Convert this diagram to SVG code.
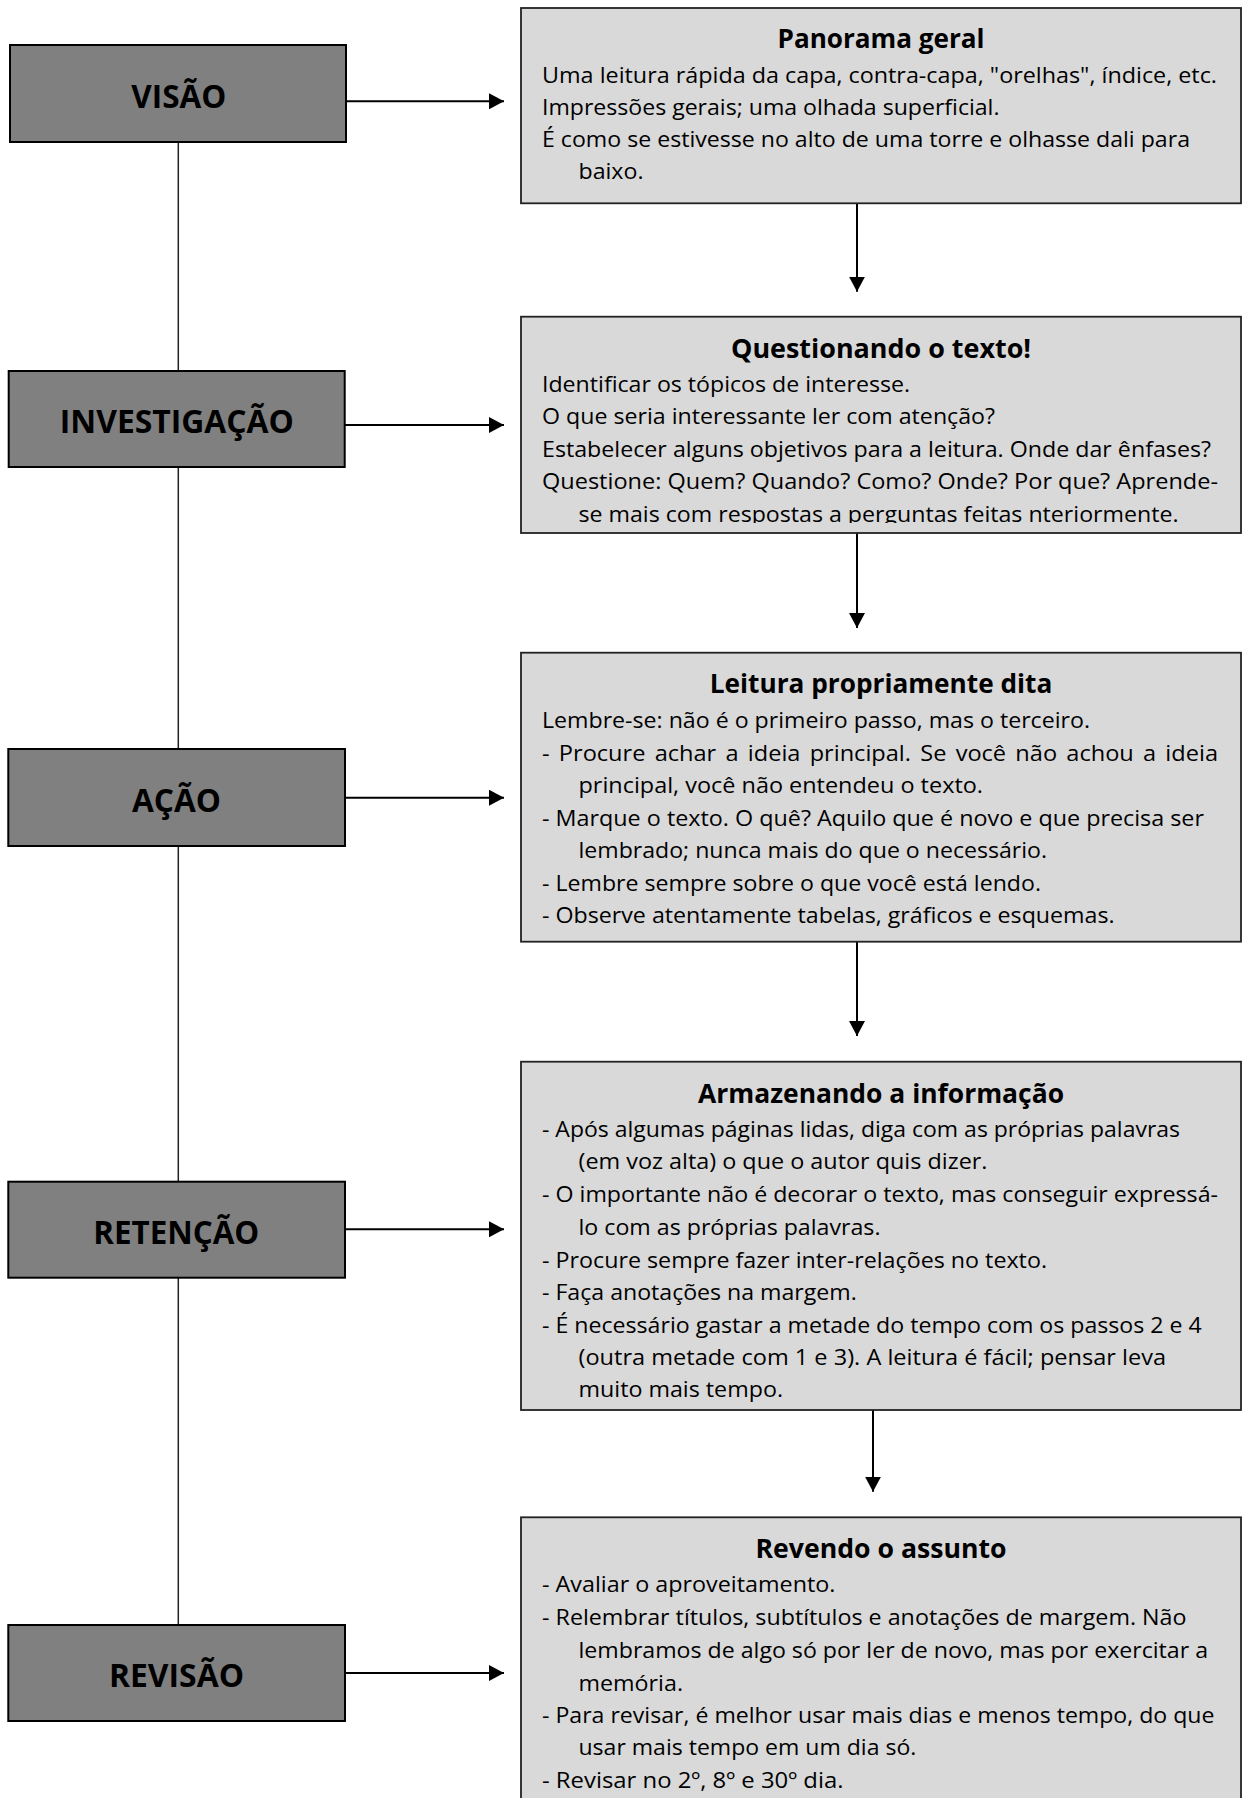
<svg xmlns="http://www.w3.org/2000/svg" width="1246" height="1798" viewBox="0 0 1246 1798">
<style>
.lbox{fill:#808080;stroke:#000;stroke-width:2}
.rbox{fill:#d9d9d9;stroke:#222;stroke-width:1.8}
.lbl{font-family:"Open Sans","Noto Sans",sans-serif;font-weight:bold;font-size:33px;fill:#000;text-anchor:middle}
.ttl{font-family:"Open Sans","Noto Sans",sans-serif;font-weight:bold;font-size:27.5px;fill:#000;text-anchor:middle}
.txt{font-family:"Open Sans","Noto Sans",sans-serif;font-size:22.5px;fill:#000}
.vline{stroke:#222;stroke-width:1.5;fill:none}
.arr{stroke:#000;stroke-width:2;fill:none;marker-end:url(#ah)}
</style>
<defs>
<marker id="ah" markerUnits="userSpaceOnUse" markerWidth="16" markerHeight="16" refX="15" refY="8" orient="auto">
<path d="M0,0 L15,8 L0,16 z" fill="#000"/>
</marker>
<clipPath id="clipQ"><rect x="520" y="300" width="722" height="223"/></clipPath>
</defs>
<rect width="1246" height="1798" fill="#fff"/>

<g id="connectors">
<line class="vline" x1="178.3" y1="142" x2="178.3" y2="371"/>
<line class="vline" x1="178.3" y1="467" x2="178.3" y2="749"/>
<line class="vline" x1="178.3" y1="846" x2="178.3" y2="1182"/>
<line class="vline" x1="178.3" y1="1278" x2="178.3" y2="1625"/>
<line class="arr" x1="346" y1="101.3" x2="504" y2="101.3"/>
<line class="arr" x1="345" y1="425" x2="504" y2="425"/>
<line class="arr" x1="345" y1="797.7" x2="504" y2="797.7"/>
<line class="arr" x1="345" y1="1229.3" x2="504" y2="1229.3"/>
<line class="arr" x1="345" y1="1673" x2="504" y2="1673"/>
<line class="arr" x1="857" y1="203.3" x2="857" y2="291.7"/>
<line class="arr" x1="857" y1="533" x2="857" y2="628"/>
<line class="arr" x1="857" y1="942" x2="857" y2="1036"/>
<line class="arr" x1="873" y1="1410" x2="873" y2="1491.7"/>
</g>

<g id="visao">
<rect class="lbox" x="10" y="45" width="336" height="97"/>
<text class="lbl" x="178.8" y="107.5" textLength="95" lengthAdjust="spacingAndGlyphs">VISÃO</text>
</g>
<g id="investigacao">
<rect class="lbox" x="8.7" y="371" width="336" height="96"/>
<text class="lbl" x="176.8" y="433" textLength="234" lengthAdjust="spacingAndGlyphs">INVESTIGAÇÃO</text>
</g>
<g id="acao">
<rect class="lbox" x="8.3" y="749" width="336.7" height="97"/>
<text class="lbl" x="176.5" y="811.5" textLength="89" lengthAdjust="spacingAndGlyphs">AÇÃO</text>
</g>
<g id="retencao">
<rect class="lbox" x="8.3" y="1181.7" width="336.7" height="96"/>
<text class="lbl" x="176.3" y="1244" textLength="166" lengthAdjust="spacingAndGlyphs">RETENÇÃO</text>
</g>
<g id="revisao">
<rect class="lbox" x="8.3" y="1625" width="336.7" height="96"/>
<text class="lbl" x="176.5" y="1687" textLength="135" lengthAdjust="spacingAndGlyphs">REVISÃO</text>
</g>

<g id="panorama">
<rect class="rbox" x="521" y="8" width="720" height="195.3"/>
<text class="ttl" x="881" y="48.3" textLength="207" lengthAdjust="spacingAndGlyphs">Panorama geral</text>
<text class="txt" x="542" y="83" textLength="675" lengthAdjust="spacingAndGlyphs">Uma leitura rápida da capa, contra-capa, "orelhas", índice, etc.</text>
<text class="txt" x="542" y="115" textLength="457.5" lengthAdjust="spacingAndGlyphs">Impressões gerais; uma olhada superficial.</text>
<text class="txt" x="542" y="147" textLength="648" lengthAdjust="spacingAndGlyphs">É como se estivesse no alto de uma torre e olhasse dali para</text>
<text class="txt" x="578.5" y="179" textLength="65" lengthAdjust="spacingAndGlyphs">baixo.</text>
</g>

<g id="questionando">
<rect class="rbox" x="521" y="316.7" width="720" height="216.3"/>
<text class="ttl" x="881" y="358" textLength="300" lengthAdjust="spacingAndGlyphs">Questionando o texto!</text>
<text class="txt" x="542" y="391.7" textLength="368" lengthAdjust="spacingAndGlyphs">Identificar os tópicos de interesse.</text>
<text class="txt" x="542" y="424" textLength="453" lengthAdjust="spacingAndGlyphs">O que seria interessante ler com atenção?</text>
<text class="txt" x="542" y="456.7" textLength="669" lengthAdjust="spacingAndGlyphs">Estabelecer alguns objetivos para a leitura. Onde dar ênfases?</text>
<text class="txt" x="542" y="489" textLength="676" lengthAdjust="spacingAndGlyphs">Questione: Quem? Quando? Como? Onde? Por que? Aprende-</text>
<text class="txt" x="578.5" y="521.7" textLength="600" lengthAdjust="spacingAndGlyphs" clip-path="url(#clipQ)">se mais com respostas a perguntas feitas nteriormente.</text>
</g>

<g id="leitura">
<rect class="rbox" x="521" y="652.7" width="720" height="289"/>
<text class="ttl" x="881" y="693.3" textLength="342.5" lengthAdjust="spacingAndGlyphs">Leitura propriamente dita</text>
<text class="txt" x="542" y="728.3" textLength="548" lengthAdjust="spacingAndGlyphs">Lembre-se: não é o primeiro passo, mas o terceiro.</text>
<text class="txt" x="542" y="760.7" textLength="676" lengthAdjust="spacingAndGlyphs" word-spacing="3">- Procure achar a ideia principal. Se você não achou a ideia</text>
<text class="txt" x="578.5" y="793.3" textLength="404.5" lengthAdjust="spacingAndGlyphs">principal, você não entendeu o texto.</text>
<text class="txt" x="542" y="825.7" textLength="662" lengthAdjust="spacingAndGlyphs">- Marque o texto. O quê? Aquilo que é novo e que precisa ser</text>
<text class="txt" x="578.5" y="858.3" textLength="468.5" lengthAdjust="spacingAndGlyphs">lembrado; nunca mais do que o necessário.</text>
<text class="txt" x="542" y="891" textLength="499" lengthAdjust="spacingAndGlyphs">- Lembre sempre sobre o que você está lendo.</text>
<text class="txt" x="542" y="923.3" textLength="572.6" lengthAdjust="spacingAndGlyphs">- Observe atentamente tabelas, gráficos e esquemas.</text>
</g>

<g id="armazenando">
<rect class="rbox" x="521" y="1061.7" width="720" height="348.3"/>
<text class="ttl" x="881" y="1102.7" textLength="366" lengthAdjust="spacingAndGlyphs">Armazenando a informação</text>
<text class="txt" x="542" y="1136.7" textLength="638" lengthAdjust="spacingAndGlyphs">- Após algumas páginas lidas, diga com as próprias palavras</text>
<text class="txt" x="578.5" y="1169.3" textLength="409" lengthAdjust="spacingAndGlyphs">(em voz alta) o que o autor quis dizer.</text>
<text class="txt" x="542" y="1202.3" textLength="676" lengthAdjust="spacingAndGlyphs">- O importante não é decorar o texto, mas conseguir expressá-</text>
<text class="txt" x="578.5" y="1235" textLength="302" lengthAdjust="spacingAndGlyphs">lo com as próprias palavras.</text>
<text class="txt" x="542" y="1267.7" textLength="505" lengthAdjust="spacingAndGlyphs">- Procure sempre fazer inter-relações no texto.</text>
<text class="txt" x="542" y="1300" textLength="314.8" lengthAdjust="spacingAndGlyphs">- Faça anotações na margem.</text>
<text class="txt" x="542" y="1332.7" textLength="659.7" lengthAdjust="spacingAndGlyphs">- É necessário gastar a metade do tempo com os passos 2 e 4</text>
<text class="txt" x="578.5" y="1365" textLength="587.5" lengthAdjust="spacingAndGlyphs">(outra metade com 1 e 3). A leitura é fácil; pensar leva</text>
<text class="txt" x="578.5" y="1397.3" textLength="204.5" lengthAdjust="spacingAndGlyphs">muito mais tempo.</text>
</g>

<g id="revendo">
<rect class="rbox" x="521" y="1517.3" width="720" height="300"/>
<text class="ttl" x="881" y="1558.3" textLength="251" lengthAdjust="spacingAndGlyphs">Revendo o assunto</text>
<text class="txt" x="542" y="1591.7" textLength="293.4" lengthAdjust="spacingAndGlyphs">- Avaliar o aproveitamento.</text>
<text class="txt" x="542" y="1625" textLength="644.5" lengthAdjust="spacingAndGlyphs">- Relembrar títulos, subtítulos e anotações de margem. Não</text>
<text class="txt" x="578.5" y="1658.3" textLength="629.5" lengthAdjust="spacingAndGlyphs">lembramos de algo só por ler de novo, mas por exercitar a</text>
<text class="txt" x="578.5" y="1690.7" textLength="104.5" lengthAdjust="spacingAndGlyphs">memória.</text>
<text class="txt" x="542" y="1723.3" textLength="672.5" lengthAdjust="spacingAndGlyphs">- Para revisar, é melhor usar mais dias e menos tempo, do que</text>
<text class="txt" x="578.5" y="1755" textLength="337.8" lengthAdjust="spacingAndGlyphs">usar mais tempo em um dia só.</text>
<text class="txt" x="542" y="1788.3" textLength="301.5" lengthAdjust="spacingAndGlyphs">- Revisar no 2º, 8º e 30º dia.</text>
</g>
</svg>
